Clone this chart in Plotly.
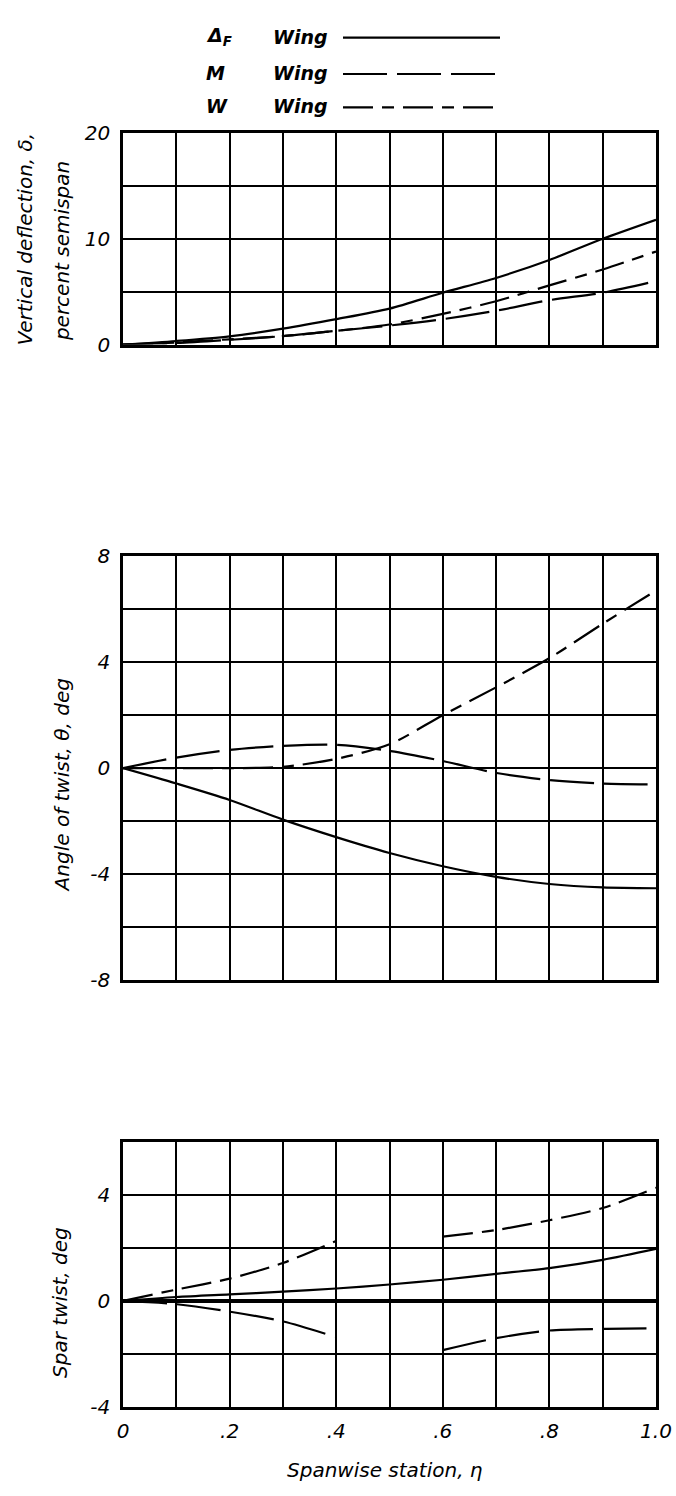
import plotly.graph_objects as go

# Spanwise stations
eta = [0.0, 0.1, 0.2, 0.3, 0.4, 0.5, 0.6, 0.7, 0.8, 0.9, 1.0]
eta_inboard = [0.0, 0.1, 0.2, 0.3, 0.4]
eta_outboard = [0.6, 0.7, 0.8, 0.9, 1.0]

# Vertical deflection, percent semispan
defl_delta = [0, 0.34, 0.78, 1.5, 2.4, 3.4, 4.9, 6.3, 8.0, 10.0, 11.8]
defl_m = [0, 0.15, 0.45, 0.8, 1.3, 1.8, 2.4, 3.2, 4.2, 4.9, 6.0]
defl_w = [0, 0.2, 0.5, 0.8, 1.3, 1.9, 2.9, 4.1, 5.6, 7.1, 8.8]

# Angle of twist, deg
twist_delta = [0, -0.58, -1.2, -1.94, -2.6, -3.2, -3.7, -4.1, -4.37, -4.5, -4.53]
twist_m = [0, 0.4, 0.69, 0.84, 0.88, 0.65, 0.27, -0.18, -0.45, -0.58, -0.61]
twist_w = [0, 0, 0, 0.05, 0.35, 0.9, 2.0, 3.05, 4.15, 5.45, 6.7]

# Spar twist, deg
spar_delta = [0, 0.15, 0.25, 0.35, 0.47, 0.62, 0.8, 1.02, 1.24, 1.55, 1.96]
spar_w_in = [0, 0.43, 0.84, 1.43, 2.26]
spar_w_out = [2.42, 2.67, 3.04, 3.5, 4.26]
spar_m_in = [0, -0.12, -0.4, -0.77, -1.36]
spar_m_out = [-1.85, -1.4, -1.11, -1.05, -1.03]

# Labelled ticks and extra (unlabelled) grid rulings
x_all = [0.0, 0.1, 0.2, 0.3, 0.4, 0.5, 0.6, 0.7, 0.8, 0.9, 1.0]
x_ticks = [0.0, 0.2, 0.4, 0.6, 0.8, 1.0]
x_labels = ["0", ".2", ".4", ".6", ".8", "1.0"]
x_rulings = [0.1, 0.3, 0.5, 0.7, 0.9]
defl_ticks = [0, 10, 20]
defl_labels = ["0", "10", "20"]
defl_rulings = [5, 15]
twist_ticks = [-8, -4, 0, 4, 8]
twist_labels = ["-8", "-4", "0", "4", "8"]
twist_rulings = [-6, -2, 2, 6]
spar_ticks = [-4, 0, 4]
spar_labels = ["-4", "0", "4"]
spar_rulings = [-2, 2, 6]

FONT = "DejaVu Sans"
INK = "black"
DASH = {
    "delta": "solid",
    "m": "44px,10px",
    "w": "30px,9px,12px,9px",
}
LINE_W = 2.2
GRID_W = 2

W, H = 676, 1496
L, R = 123, 656


def px_x(px):
    return (px - L) / (R - L)


def px_y(py):
    return 1 - py / H


fig = go.Figure()


def add_curve(x, y, key, xa, ya):
    fig.add_trace(go.Scatter(
        x=x, y=y, mode="lines", xaxis=xa, yaxis=ya, showlegend=False,
        line=dict(color=INK, width=LINE_W, dash=DASH[key], shape="spline", smoothing=0.8),
        hoverinfo="skip",
    ))


add_curve(eta, defl_delta, "delta", "x", "y")
add_curve(eta, defl_w, "w", "x", "y")
add_curve(eta, defl_m, "m", "x", "y")

add_curve(eta, twist_delta, "delta", "x2", "y2")
add_curve(eta, twist_w, "w", "x2", "y2")
add_curve(eta, twist_m, "m", "x2", "y2")

add_curve(eta, spar_delta, "delta", "x3", "y3")
add_curve(eta_inboard, spar_w_in, "w", "x3", "y3")
add_curve(eta_outboard, spar_w_out, "w", "x3", "y3")
add_curve(eta_inboard, spar_m_in, "m", "x3", "y3")
add_curve(eta_outboard, spar_m_out, "m", "x3", "y3")

tick_font = dict(family=FONT, size=20, color=INK, style="italic")


def rulings(vals):
    return dict(tickmode="array", tickvals=vals, ticks="",
                showgrid=True, gridcolor=INK, gridwidth=GRID_W)


def x_axis(anchor, show_labels):
    d = dict(
        domain=[0, 1], range=[0, 1], anchor=anchor, ticks="",
        showline=True, linecolor=INK, linewidth=2.5, mirror=True,
        zeroline=False,
    )
    if show_labels:
        d.update(
            tickmode="array", tickvals=x_ticks, ticktext=x_labels,
            showgrid=True, gridcolor=INK, gridwidth=GRID_W,
            minor=rulings(x_rulings), tickfont=tick_font, ticklabelstandoff=4,
        )
    else:
        # grid rulings only, no tick text at all
        d.update(
            tickmode="array", tickvals=[], showticklabels=False,
            showgrid=False, minor=rulings(x_all),
        )
    return d


def y_axis(anchor, top_px, bottom_px, rng, vals, labels, extra, zero_w=None):
    d = dict(
        domain=[px_y(bottom_px), px_y(top_px)], range=rng, anchor=anchor,
        tickmode="array", tickvals=vals, ticktext=labels, ticks="",
        showgrid=True, gridcolor=INK, gridwidth=GRID_W,
        minor=rulings(extra),
        showline=True, linecolor=INK, linewidth=2.5, mirror=True,
        zeroline=False, tickfont=tick_font, ticklabelstandoff=6,
    )
    if zero_w:
        d.update(zeroline=True, zerolinecolor=INK, zerolinewidth=zero_w)
    return d


fig.update_layout(
    width=W, height=H,
    margin=dict(l=L, r=W - R, t=0, b=0),
    paper_bgcolor="white", plot_bgcolor="white",
    showlegend=False,
    xaxis=x_axis("y", False),
    xaxis2=x_axis("y2", False),
    xaxis3=x_axis("y3", True),
    yaxis=y_axis("x", 123, 338, [0, 20], defl_ticks, defl_labels, defl_rulings),
    yaxis2=y_axis("x2", 553, 984, [-8, 8], twist_ticks, twist_labels, twist_rulings),
    yaxis3=y_axis("x3", 1148, 1418, [-4, 6], spar_ticks, spar_labels, spar_rulings, zero_w=3.5),
)

title_font = dict(family=FONT, size=20, color=INK, style="italic")
legend_font = dict(family=FONT, size=19, color=INK, style="italic", weight="bold")


def note(text, px, py, font, angle=0, xanchor="center"):
    fig.add_annotation(
        text=text, x=px_x(px), y=px_y(py), xref="paper", yref="paper",
        showarrow=False, textangle=angle, font=font,
        xanchor=xanchor, yanchor="middle",
    )


# Axis titles
note("Vertical deflection, δ,", 25, 231, title_font, -90)
note("percent semispan", 62, 243, title_font, -90)
note("Angle of twist, θ, deg", 62, 786, title_font, -90)
note("Spar twist, deg", 60, 1312, title_font, -90)
note("Spanwise station, η", 385, 1482, title_font)

# Key
key_rows = [
    ("Δ<sub>F</sub>", "delta", 25),
    ("M", "m", 62),
    ("W", "w", 96),
]
for label, key, py in key_rows:
    note(label, 204, py, legend_font, xanchor="left")
    note("Wing", 271, py, legend_font, xanchor="left")
    fig.add_shape(
        type="line", xref="paper", yref="paper",
        x0=px_x(343), x1=px_x(500), y0=px_y(py + 1), y1=px_y(py + 1),
        line=dict(color=INK, width=LINE_W, dash=DASH[key]),
    )

fig.write_html("out.html")
